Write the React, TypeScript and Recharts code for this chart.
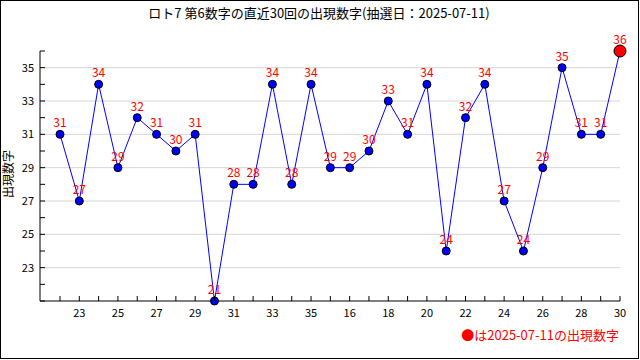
import React from 'react';
import { LineChart, Line, XAxis, YAxis, ReferenceLine, LabelList } from 'recharts';

const drawLabels = ['22','23','24','25','26','27','28','29','30','31','32','33','34','35','15','16','17','18','19','20','21','22','23','24','25','26','27','28','29','30'];
const values = [31,27,34,29,32,31,30,31,21,28,28,34,28,34,29,29,30,33,31,34,24,32,34,27,24,29,35,31,31,36];
const yTicks = [21,22,23,24,25,26,27,28,29,30,31,32,33,34,35,36];
const yLabelTicks = [23,25,27,29,31,33,35];
const gridValues = [23,25,27,29,31,33,35];

const title = 'ロト7 第6数字の直近30回の出現数字(抽選日：2025-07-11)';
const yTitle = '出現数字';
const legendText = '●は2025-07-11の出現数字';

const FONT = "'Noto Sans CJK JP', sans-serif";

const data = values.map((v, i) => ({ i, label: drawLabels[i], value: v }));
const xTicks = data.map((d) => d.i);
const lastIndex = values.length - 1;

const XTick = (p: any) => {
  const { x, y, payload } = p;
  const i = payload.value;
  return (
    <g>
      <line x1={x} x2={x} y1={y - 5} y2={y} stroke="#000" />
      {i % 2 === 1 && (
        <text x={x} y={y + 16} textAnchor="middle" fontSize={11} fontFamily={FONT} fill="#000">
          {drawLabels[i]}
        </text>
      )}
    </g>
  );
};

const YTick = (p: any) => {
  const { x, y, payload } = p;
  const v = payload.value;
  return (
    <g>
      <line x1={x} x2={x + 5} y1={y} y2={y} stroke="#000" />
      {yLabelTicks.includes(v) && (
        <text x={x - 6} y={y + 4} textAnchor="end" fontSize={11} fontFamily={FONT} fill="#000">
          {v}
        </text>
      )}
    </g>
  );
};

const Dot = (p: any) => {
  const { cx, cy, index } = p;
  const last = index === lastIndex;
  return (
    <circle key={`d${index}`} cx={cx} cy={cy} r={last ? 6 : 4} fill={last ? '#ff0000' : '#0000ff'} stroke="#000" strokeWidth={1} />
  );
};

const ValueLabel = (p: any) => {
  const { x, y, value } = p;
  return (
    <text x={x} y={y - 7} textAnchor="middle" fontSize={12} fontFamily={FONT} fill="#ff0000">
      {value}
    </text>
  );
};

export default function App() {
  return (
    <div style={{ position: 'absolute', left: 0, top: 0, width: 640, height: 360, background: '#fff' }}>
      <LineChart width={640} height={360} data={data} margin={{ top: 51, right: 20, bottom: 0, left: 0 }}>
        {gridValues.map((g) => (
          <ReferenceLine key={g} y={g} stroke="#d6d6d6" strokeWidth={1} />
        ))}
        <XAxis
          dataKey="i"
          type="number"
          domain={[0, lastIndex]}
          ticks={xTicks}
          interval={0}
          padding={{ left: 20, right: 0 }}
          height={59}
          tickSize={0}
          tickMargin={0}
          tickLine={false}
          axisLine={{ stroke: '#000' }}
          tick={<XTick />}
        />
        <YAxis
          type="number"
          domain={[21, 36]}
          ticks={yTicks}
          interval={0}
          width={40}
          tickSize={0}
          tickMargin={0}
          tickLine={false}
          axisLine={{ stroke: '#000' }}
          tick={<YTick />}
        />
        <Line
          type="linear"
          dataKey="value"
          stroke="#0000ff"
          strokeWidth={1}
          dot={Dot}
          activeDot={false}
          isAnimationActive={false}
        >
          <LabelList dataKey="value" content={ValueLabel} />
        </Line>
      </LineChart>
      <svg width={640} height={360} style={{ position: 'absolute', left: 0, top: 0, pointerEvents: 'none' }}>
        <rect x={0.5} y={0.5} width={638} height={358} fill="none" stroke="#000" />
        <text x={319} y={18} textAnchor="middle" fontSize={13} fontFamily={FONT} fill="#000">
          {title}
        </text>
        <text x={13} y={174} textAnchor="middle" fontSize={12} fontFamily={FONT} fill="#000" transform="rotate(-90 13 174)">
          {yTitle}
        </text>
        <text x={619} y={340} textAnchor="end" fontSize={13} fontFamily={FONT} fill="#ff0000">
          {legendText}
        </text>
      </svg>
    </div>
  );
}
